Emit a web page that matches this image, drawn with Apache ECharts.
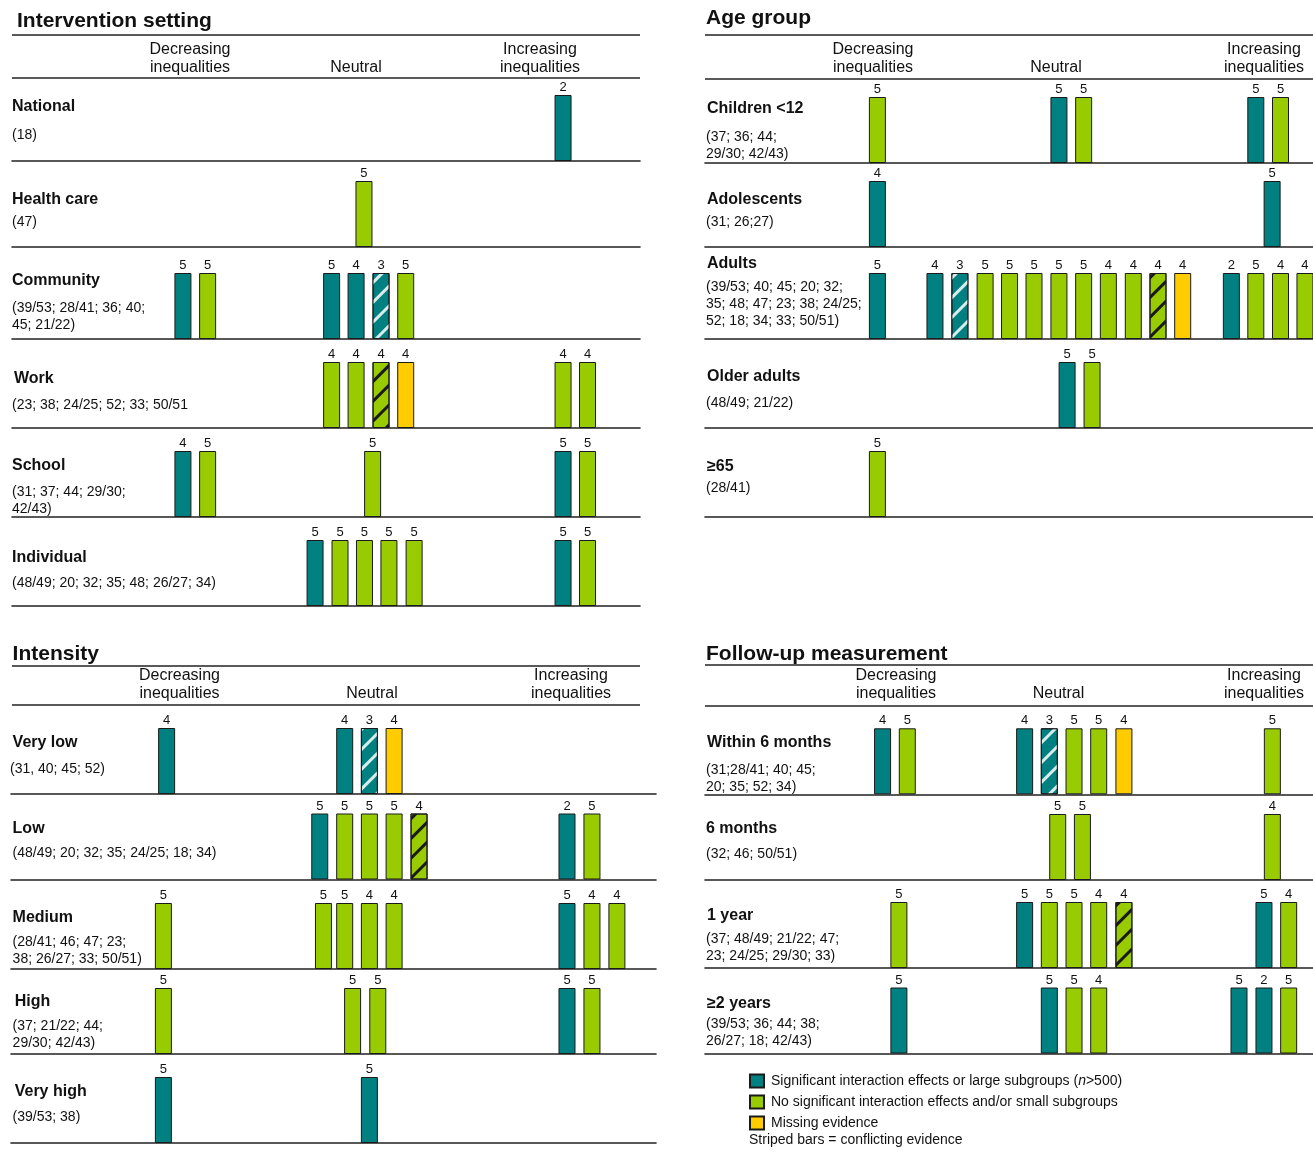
<!DOCTYPE html>
<html><head><meta charset="utf-8">
<script src="https://cdn.jsdelivr.net/npm/echarts/dist/echarts.min.js"></script>
<style>html,body{margin:0;padding:0;background:#fff}#c{width:1313px;height:1160px}</style>
</head><body><div id="c"></div><script>
// ---------------- DATA ----------------
const columnHeaders = ['Decreasing\ninequalities', 'Neutral', 'Increasing\ninequalities'];
const legendNames = ['S', 'N', 'M'];
const legendTexts = {
  S: 'Significant interaction effects or large subgroups ({i|n}>500)',
  N: 'No significant interaction effects and/or small subgroups',
  M: 'Missing evidence'
};
const stripeNote = 'Striped bars = conflicting evidence';
// bar types: S = significant/large, N = not significant/small, M = missing, SX/NX = striped (conflicting)
// each bar: [slot position on the harvest axis, type, study quality count]

const settingTitle = 'Intervention setting';
const settingRows = ['National', 'Health care', 'Community', 'Work', 'School', 'Individual'];
const settingRefs = ['(18)', '(47)', '(39/53; 28/41; 36; 40;\n45; 21/22)', '(23; 38; 24/25; 52; 33; 50/51',
  '(31; 37; 44; 29/30;\n42/43)', '(48/49; 20; 32; 35; 48; 26/27; 34)'];
const settingBars = [
  [[22.31, 'S', 2]],
  [[14.25, 'N', 5]],
  [[6.92, 'S', 5], [7.92, 'N', 5], [12.94, 'S', 5], [13.93, 'S', 4], [14.94, 'SX', 3], [15.94, 'N', 5]],
  [[12.94, 'N', 4], [13.93, 'N', 4], [14.94, 'NX', 4], [15.94, 'M', 4], [22.31, 'N', 4], [23.30, 'N', 4]],
  [[6.92, 'S', 4], [7.92, 'N', 5], [14.60, 'N', 5], [22.31, 'S', 5], [23.30, 'N', 5]],
  [[12.27, 'S', 5], [13.28, 'N', 5], [14.27, 'N', 5], [15.26, 'N', 5], [16.28, 'N', 5], [22.31, 'S', 5], [23.30, 'N', 5]]
];

const ageTitle = 'Age group';
const ageRows = ['Children <12', 'Adolescents', 'Adults', 'Older adults', '≥65'];
const ageRefs = ['(37; 36; 44;\n29/30; 42/43)', '(31; 26;27)',
  '(39/53; 40; 45; 20; 32;\n35; 48; 47; 23; 38; 24/25;\n52; 18; 34; 33; 50/51)', '(48/49; 21/22)', '(28/41)'];
const ageBars = [
  [[6.98, 'N', 5], [14.33, 'S', 5], [15.33, 'N', 5], [22.30, 'S', 5], [23.30, 'N', 5]],
  [[6.98, 'S', 4], [22.96, 'S', 5]],
  [[6.98, 'S', 5], [9.31, 'S', 4], [10.32, 'SX', 3], [11.34, 'N', 5], [12.33, 'N', 5], [13.32, 'N', 5],
   [14.33, 'N', 5], [15.33, 'N', 5], [16.33, 'N', 4], [17.34, 'N', 4], [18.34, 'NX', 4], [19.34, 'M', 4],
   [21.31, 'S', 2], [22.30, 'N', 5], [23.30, 'N', 4], [24.29, 'N', 4]],
  [[14.66, 'S', 5], [15.67, 'N', 5]],
  [[6.98, 'N', 5]]
];

const intensityTitle = 'Intensity';
const intensityRows = ['Very low', 'Low', 'Medium', 'High', 'Very high'];
const intensityRefs = ['(31, 40; 45; 52)', '(48/49; 20; 32; 35; 24/25; 18; 34)',
  '(28/41; 46; 47; 23;\n38; 26/27; 33; 50/51)', '(37; 21/22; 44;\n29/30; 42/43)', '(39/53; 38)'];
const intensityBars = [
  [[6.30, 'S', 4], [13.51, 'S', 4], [14.51, 'SX', 3], [15.51, 'M', 4]],
  [[12.50, 'S', 5], [13.51, 'N', 5], [14.51, 'N', 5], [15.51, 'N', 5], [16.52, 'NX', 4], [22.51, 'S', 2], [23.52, 'N', 5]],
  [[6.17, 'N', 5], [12.65, 'N', 5], [13.51, 'N', 5], [14.51, 'N', 4], [15.51, 'N', 4], [22.51, 'S', 5], [23.52, 'N', 4], [24.53, 'N', 4]],
  [[6.17, 'N', 5], [13.83, 'N', 5], [14.85, 'N', 5], [22.51, 'S', 5], [23.52, 'N', 5]],
  [[6.17, 'S', 5], [14.51, 'S', 5]]
];

const followTitle = 'Follow-up measurement';
const followRows = ['Within 6 months', '6 months', '1 year', '≥2 years'];
const followRefs = ['(31;28/41; 40; 45;\n20; 35; 52; 34)', '(32; 46; 50/51)',
  '(37; 48/49; 21/22; 47;\n23; 24/25; 29/30; 33)', '(39/53; 36; 44; 38;\n26/27; 18; 42/43)'];
const followBars = [
  [[7.19, 'S', 4], [8.19, 'N', 5], [12.94, 'S', 4], [13.94, 'SX', 3], [14.94, 'N', 5], [15.94, 'N', 5], [16.96, 'M', 4], [22.97, 'N', 5]],
  [[14.28, 'N', 5], [15.28, 'N', 5], [22.97, 'N', 4]],
  [[7.85, 'N', 5], [12.94, 'S', 5], [13.94, 'N', 5], [14.94, 'N', 5], [15.94, 'N', 4], [16.96, 'NX', 4], [22.63, 'S', 5], [23.63, 'N', 4]],
  [[7.85, 'S', 5], [13.94, 'S', 5], [14.94, 'N', 5], [15.94, 'N', 4], [21.62, 'S', 5], [22.63, 'S', 2], [23.63, 'N', 5]]
];

// ---------------- LAYOUT / STYLE ----------------
const FONT = '"Liberation Sans", Arial, Helvetica, sans-serif';
const PITCH = 24.7;      // pixels per slot
const BAR_H = 66;
const TXT = '#111';
const LINE = '#222';

const panels = [
  { title: settingTitle, rows: settingRows, refs: settingRefs, bars: settingBars,
    titleX: 17, titleY: 21.5, left: 12, right: 640, hl: 12, hr: 640, topLineY: 35, headLineY: 78,
    headX: [190, 356, 540], head2Y: 59, head1Y: 68,
    base: [161, 247, 339, 428, 517, 606],
    nameX: [12, 12, 12, 14, 12, 12], nameY: [107, 200, 281, 379, 466, 558],
    refX: [12, 12, 12, 12, 12, 12], refY: [135, 222, 308, 405, 492, 583] },
  { title: ageTitle, rows: ageRows, refs: ageRefs, bars: ageBars,
    titleX: 706, titleY: 18, left: 705, right: 1313, hl: 705, hr: 1313, topLineY: 35, headLineY: 79,
    headX: [873, 1056, 1264], head2Y: 59, head1Y: 68,
    base: [163, 247, 339, 428, 517],
    nameX: [707, 707, 707, 707, 707], nameY: [109, 200, 264, 377, 467],
    refX: [706, 706, 706, 706, 706], refY: [137, 222, 287, 403, 488] },
  { title: intensityTitle, rows: intensityRows, refs: intensityRefs, bars: intensityBars,
    titleX: 12.6, titleY: 654.5, left: 11, right: 656, hl: 12, hr: 640, topLineY: 666, headLineY: 705,
    headX: [179.5, 372, 571], head2Y: 684.5, head1Y: 694,
    base: [794, 879.5, 969, 1054, 1143],
    nameX: [12.6, 12.6, 12.6, 14.7, 14.7], nameY: [743, 829, 918, 1002, 1092],
    refX: [10, 12.6, 12.6, 12.6, 12.6], refY: [769, 853, 942, 1026, 1117] },
  { title: followTitle, rows: followRows, refs: followRefs, bars: followBars,
    titleX: 706, titleY: 654.5, left: 705, right: 1313, hl: 705, hr: 1313, topLineY: 665, headLineY: 706,
    headX: [896, 1058.5, 1264], head2Y: 684.5, head1Y: 694,
    base: [794.3, 880, 968, 1053.5],
    nameX: [707, 706, 707, 707], nameY: [743, 829, 916, 1004],
    refX: [706, 706, 706, 706], refY: [770, 854, 939, 1024] }
];

const TEAL = '#008080', GREEN = '#99CC00', YELLOW = '#FFCC00';
const stripe = (c) => ({ symbol: 'rect', symbolSize: 1, dashArrayX: [1, 0], dashArrayY: [3, 11], rotation: -Math.PI / 4, color: c });
const typeStyle = {
  S:  { color: TEAL, borderColor: '#1a1a1a', borderWidth: 1 },
  N:  { color: GREEN, borderColor: '#1a1a1a', borderWidth: 1 },
  M:  { color: YELLOW, borderColor: '#1a1a1a', borderWidth: 1 },
  SX: { color: TEAL, borderColor: '#1a1a1a', borderWidth: 1, decal: stripe('rgba(255,255,255,0.85)') },
  NX: { color: GREEN, borderColor: '#1a1a1a', borderWidth: 1, decal: stripe('#1a1a1a') }
};

const grids = [], xAxes = [], yAxes = [], series = [], gfx = [];
const T = (x, y, text, size, weight, extra) => ({
  type: 'text', x: x, y: y, silent: true,
  style: Object.assign({ text: text, fill: TXT, fontSize: size, fontWeight: weight || 'normal', fontFamily: FONT,
    textAlign: 'left', textVerticalAlign: 'middle', verticalAlign: 'middle' }, extra || {})
});
const L = (x1, y1, x2, y2) => ({ type: 'line', silent: true, shape: { x1, y1, x2, y2 }, style: { stroke: LINE, lineWidth: 1.6 } });

panels.forEach(p => {
  gfx.push(T(p.titleX, p.titleY, p.title, 21, 'bold'));
  gfx.push(L(p.hl, p.topLineY, p.hr, p.topLineY));
  gfx.push(L(p.hl, p.headLineY, p.hr, p.headLineY));
  columnHeaders.forEach((h, i) => {
    const two = h.indexOf('\n') >= 0;
    gfx.push(T(p.headX[i], two ? p.head2Y : p.head1Y, h, 16, 'normal', { textAlign: 'center', lineHeight: 18 }));
  });
  const w = p.right - p.left;
  p.rows.forEach((name, r) => {
    const gi = grids.length;
    grids.push({ left: p.left, top: p.base[r] - BAR_H, width: w, height: BAR_H, containLabel: false, outerBoundsMode: 'none' });
    xAxes.push({ gridIndex: gi, type: 'value', min: 0, max: w / PITCH,
      axisLine: { show: true, onZero: false, lineStyle: { color: LINE, width: 1.6 } },
      axisTick: { show: false }, axisLabel: { show: false }, splitLine: { show: false } });
    yAxes.push({ gridIndex: gi, type: 'value', min: 0, max: 1, show: false, splitLine: { show: false } });
    const byType = {};
    p.bars[r].forEach(b => { (byType[b[1]] = byType[b[1]] || []).push([b[0], 1, b[2]]); });
    Object.keys(byType).forEach(t => {
      series.push({
        type: 'bar', name: t, xAxisIndex: gi, yAxisIndex: gi, barWidth: 17, barGap: '-100%',
        data: byType[t], encode: { x: 0, y: 1 }, itemStyle: typeStyle[t], silent: true,
        label: { show: true, position: 'top', distance: 1, formatter: q => String(q.value[2]),
          fontSize: 13, color: TXT, fontFamily: FONT },
        emphasis: { disabled: true }
      });
    });
    gfx.push(T(p.nameX[r], p.nameY[r], name, 16, 'bold'));
    gfx.push(T(p.refX[r], p.refY[r] - 8.5, p.refs[r], 14, 'normal', { lineHeight: 17, textVerticalAlign: 'top', verticalAlign: 'top' }));
  });
});

gfx.push(T(749, 1140, stripeNote, 14, 'normal'));

const chart = echarts.init(document.getElementById('c'), null, { renderer: 'canvas' });
chart.setOption({
  animation: false,
  backgroundColor: '#fff',
  grid: grids, xAxis: xAxes, yAxis: yAxes, series: series,
  legend: {
    data: legendNames, orient: 'vertical', left: 749, top: 1073.5, padding: 0,
    itemWidth: 14, itemHeight: 13, itemGap: 6, icon: 'rect', selectedMode: false,
    formatter: n => legendTexts[n],
    textStyle: { fontSize: 14, fontFamily: FONT, color: TXT, padding: [0, 0, 0, 2],
      rich: { i: { fontStyle: 'italic', fontSize: 14, fontFamily: FONT, color: TXT } } }
  },
  graphic: { elements: gfx }
});
</script></body></html>
